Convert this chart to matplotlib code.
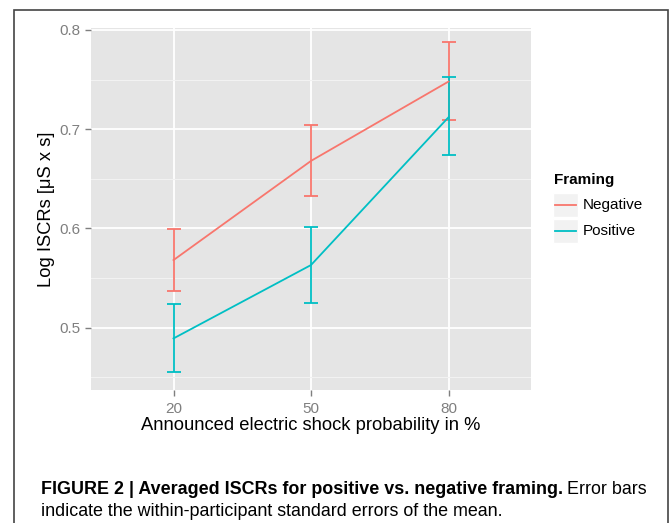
import numpy as np
import matplotlib.pyplot as plt
from matplotlib.patches import Rectangle
from matplotlib.lines import Line2D

plt.rcParams['font.family'] = ['Liberation Sans', 'DejaVu Sans']

#data
probs = ['20', '50', '80']
neg_mean = [0.568, 0.668, 0.748]
neg_lo = [0.537, 0.633, 0.709]
neg_hi = [0.599, 0.704, 0.788]
pos_mean = [0.489, 0.563, 0.712]
pos_lo = [0.455, 0.525, 0.674]
pos_hi = [0.524, 0.601, 0.753]
groups = ['Negative', 'Positive']
colors = ['#F8766D', '#00BFC4']

W, H = 672, 523
fig = plt.figure(figsize=(W / 100, H / 100), dpi=100)

def fx(px):
    return px / W

def fy(py):
    return 1 - py / H

ax = fig.add_axes([fx(91), fy(390), fx(531) - fx(91), fy(28) - fy(390)])
ax.set_facecolor('#E5E5E5')

x = np.arange(1, len(probs) + 1)
series = [(neg_mean, neg_lo, neg_hi), (pos_mean, pos_lo, pos_hi)]
for (m, lo, hi), c in zip(series, colors):
    m = np.array(m)
    yerr = [m - np.array(lo), np.array(hi) - m]
    ax.errorbar(x, m, yerr=yerr, color=c, lw=1.3, capsize=5, capthick=1.3, zorder=3)

ax.set_xlim(0.4, 3.6)
ax.set_ylim(0.437, 0.802)
ax.set_xticks(x)
ax.set_xticklabels(probs)
ax.set_yticks([0.5, 0.6, 0.7, 0.8])
ax.set_yticks([0.45, 0.55, 0.65, 0.75], minor=True)
ax.grid(True, which='major', color='white', lw=1.3)
ax.grid(True, which='minor', axis='y', color='#F2F2F2', lw=0.8)
ax.set_axisbelow(True)
for s in ax.spines.values():
    s.set_visible(False)
ax.tick_params(which='major', colors='#7F7F7F', labelsize=11, length=4, width=1)
ax.tick_params(axis='x', pad=4.5)
ax.tick_params(which='minor', length=0)
ax.set_xlabel('Announced electric shock probability in %', fontsize=13.2, labelpad=1)
ax.set_ylabel('Log ISCRs [μS x s]', fontsize=13.2, labelpad=3)

#legend drawn by hand
fig.text(fx(554), fy(180), 'Framing', fontsize=11, fontweight='bold', va='center')
for i, (g, c) in enumerate(zip(groups, colors)):
    yc = 205 + i * 26
    fig.add_artist(Rectangle((fx(553), fy(yc + 12)), fx(25), fy(yc - 12) - fy(yc + 12),
                             transform=fig.transFigure, facecolor='#F2F2F2', edgecolor='white'))
    fig.add_artist(Line2D([fx(555), fx(576)], [fy(yc), fy(yc)], color=c, lw=1.3,
                          transform=fig.transFigure))
    fig.text(fx(583), fy(yc), g, fontsize=11, va='center')

#outer frame
fig.add_artist(Rectangle((fx(14), fy(540)), fx(668) - fx(14), fy(10) - fy(540),
                         transform=fig.transFigure, fill=False, edgecolor='#444444', lw=1.2))

t = fig.text(fx(41), fy(490), 'FIGURE 2 | Averaged ISCRs for positive vs. negative framing.',
             fontsize=12.9, fontweight='bold', va='center')
fig.canvas.draw()
bb = t.get_window_extent()
fig.text(bb.x1 / W + fx(4), fy(490), 'Error bars', fontsize=12.9, va='center')
fig.text(fx(41), fy(512), 'indicate the within-participant standard errors of the mean.',
         fontsize=12.9, va='center')

fig.savefig('out.png', dpi=100)
